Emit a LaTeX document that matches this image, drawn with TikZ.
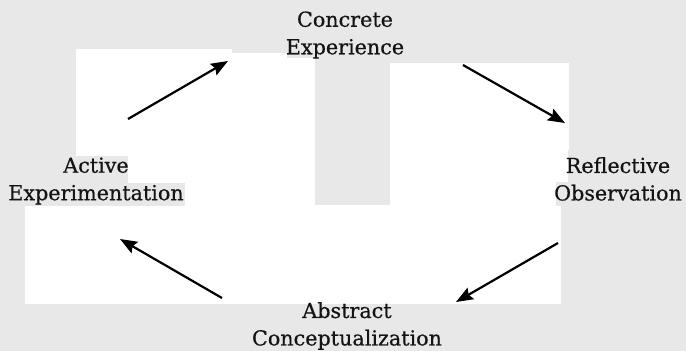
\documentclass[tikz,border=0pt]{standalone}
\usepackage{fontspec}
\setmainfont[FakeBold=0.5]{DejaVu Serif}
\usetikzlibrary{arrows.meta}
\definecolor{paper}{RGB}{232,232,232}
\definecolor{ink}{RGB}{20,20,20}
\tikzset{
  lbl/.style={font=\fontsize{20.7}{27.5}\selectfont, text=ink, align=center, inner sep=0pt},
  flow/.style={line width=2.2pt, draw=black, -{Stealth[length=17pt,width=13pt,inset=2.5pt]}},
  sheet/.style={fill=white, draw=none},
  patch/.style={fill=paper, draw=none}
}
\begin{document}
\begin{tikzpicture}[x=1pt,y=-1pt]
\fill[paper] (0,0) rectangle (686,351);
\useasboundingbox (0,0) rectangle (686,351);
% white patches
\fill[sheet] (76,49) rectangle (315,206);
\fill[sheet] (390,63) rectangle (569,206);
\fill[sheet] (25,205) rectangle (561,304);
% grey patches behind the labels
\fill[patch] (232,0) rectangle (315,53);
\fill[patch] (287,0) rectangle (402,58);
\fill[patch] (62,156) rectangle (128,183);
\fill[patch] (0,183) rectangle (185,206);
\fill[patch] (568,150) rectangle (686,183);
\fill[patch] (556,182) rectangle (686,206);
% labels
\node[lbl] (ce) at (345,35) {Concrete\\Experience};
\node[lbl] (ae) at (96,181) {Active\\Experimentation};
\node[lbl] (ro) at (618,179) {Reflective\\Observation};
\node[lbl] (ac) at (347,326) {Abstract\\Conceptualization};
% arrow ends
\coordinate (t1) at (128,119); \coordinate (h1) at (228,61);
\coordinate (t2) at (463,65);  \coordinate (h2) at (565,123);
\coordinate (t3) at (558,243); \coordinate (h3) at (456,302);
\coordinate (t4) at (222,298); \coordinate (h4) at (120,239);
\draw[flow] (t1) -- (h1);
\draw[flow] (t2) -- (h2);
\draw[flow] (t3) -- (h3);
\draw[flow] (t4) -- (h4);
\end{tikzpicture}
\end{document}
